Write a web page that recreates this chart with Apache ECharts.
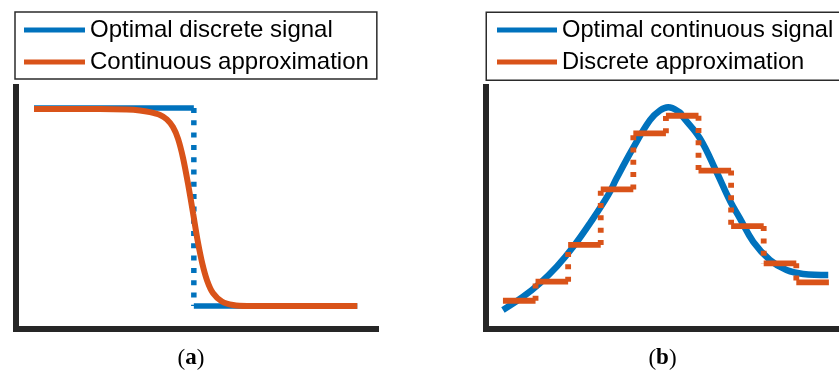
<!DOCTYPE html>
<html><head><meta charset="utf-8">
<script src="https://cdn.jsdelivr.net/npm/echarts@6/dist/echarts.min.js"></script>
<style>html,body{margin:0;padding:0;background:#fff}#c{width:839px;height:372px}</style>
</head><body><div id="c"></div>
<script>
// ---------- Panel (a) ----------
const aNames = ['Optimal discrete signal', 'Continuous approximation'];
const aDiscreteX = [5, 49.4, 94.8];          // segment edges of the optimal discrete signal
const aDiscreteLevels = [91.3, 9.3];         // its two levels
const aContX = [5, 23.3, 30.8, 34.4, 37.2, 40.0, 41.9, 43.6, 45.0, 46.4, 47.8, 49.2, 50.5, 51.8, 53.1, 54.7, 57.2, 60.3, 64.2, 94.8];
const aContY = [90.9, 90.9, 90.7, 90.3, 89.6, 88.4, 86.6, 83.4, 78.6, 70.6, 59.8, 47.6, 36.0, 26.6, 19.8, 14.7, 11.2, 9.7, 9.3, 9.3];

// ---------- Panel (b) ----------
const bNames = ['Optimal continuous signal', 'Discrete approximation'];
const bContX = [0.0, 0.62, 1.13, 1.65, 2.16, 2.67, 3.23, 3.49, 3.99, 4.51, 4.82, 5.07, 5.43, 5.52, 6.04, 6.55, 6.98, 7.27, 7.68, 8.19, 8.70, 9.21, 9.98];
const bContY = [7.7, 13.2, 18.7, 25.6, 33.9, 43.6, 55.3, 62.3, 74.7, 86.3, 90.3, 91.6, 89.4, 87.7, 78.8, 64.9, 52.5, 45.6, 35.9, 28.4, 24.2, 22.6, 22.2];
const bStepEdges = [0, 1, 2, 3, 4, 5, 6, 7, 8, 9, 10];
const bStepLevels = [11.5, 19.4, 34.6, 57.6, 80.8, 88.1, 65.4, 42.4, 27.0, 19.1];

const panelLabels = ['a', 'b'];

// ---------- build ----------
const BLUE = '#0072BD', ORANGE = '#D95319', AXIS = '#262626', FRAME = '#2b2b2b';
const zip = (xs, ys) => xs.map((x, i) => [x, ys[i]]);

function stepSeries(name, color, edges, levels, gi, width) {
  const out = [];
  levels.forEach((lv, k) => {
    out.push({ type: 'line', name, xAxisIndex: gi, yAxisIndex: gi, color, showSymbol: false, symbol: 'none',
      lineStyle: { color, width, cap: 'butt' }, data: [[edges[k], lv], [edges[k + 1], lv]], silent: true, z: 3 });
  });
  for (let k = 1; k < levels.length; k++) {
    out.push({ type: 'line', name, xAxisIndex: gi, yAxisIndex: gi, color, showSymbol: false, symbol: 'none',
      lineStyle: { color, width, type: [5, 7.3], cap: 'butt' },
      data: [[edges[k], levels[k - 1]], [edges[k], levels[k]]], silent: true, z: 3 });
  }
  return out;
}

const axisLineCfg = { show: true, onZero: false, lineStyle: { color: AXIS, width: 6, cap: 'square' } };
const bareAxis = (extra) => Object.assign({
  axisLine: axisLineCfg, axisTick: { show: false }, axisLabel: { show: false }, splitLine: { show: false }
}, extra);

const series = [];
series.push(...stepSeries(aNames[0], BLUE, aDiscreteX, aDiscreteLevels, 0, 5.5));
series.push({ type: 'line', name: aNames[1], xAxisIndex: 0, yAxisIndex: 0, color: ORANGE, showSymbol: false, symbol: 'none',
  smooth: 0.3, lineStyle: { color: ORANGE, width: 6 }, data: zip(aContX, aContY), z: 4, silent: true });
series.push({ type: 'line', name: bNames[0], xAxisIndex: 1, yAxisIndex: 1, color: BLUE, showSymbol: false, symbol: 'none',
  smooth: 0.4, lineStyle: { color: BLUE, width: 6.5 }, data: zip(bContX, bContY), z: 2, silent: true });
series.push(...stepSeries(bNames[1], ORANGE, bStepEdges, bStepLevels, 1, 5.8));

const legendCommon = {
  orient: 'vertical', top: 12, itemHeight: 5, itemGap: 8, icon: 'rect', selectedMode: false,
  borderRadius: 0, textStyle: { fontSize: 24, fontFamily: 'Liberation Sans', color: '#000' }
};

const chart = echarts.init(document.getElementById('c'), null, { renderer: 'canvas' });
chart.setOption({
  animation: false,
  backgroundColor: '#fff',
  grid: [
    { left: 16, top: 87, width: 360, height: 241.5 },
    { left: 486, top: 87, width: 353, height: 241.5 }
  ],
  xAxis: [
    bareAxis({ type: 'value', gridIndex: 0, min: 0, max: 100 }),
    bareAxis({ type: 'value', gridIndex: 1, min: -0.52, max: 10.31 })
  ],
  yAxis: [
    bareAxis({ type: 'value', gridIndex: 0, min: 0, max: 100 }),
    bareAxis({ type: 'value', gridIndex: 1, min: 0, max: 100 })
  ],
  legend: [
    Object.assign({}, legendCommon, { left: 15, itemWidth: 61, padding: [6, 8, 5, 9],
      borderColor: FRAME, borderWidth: 1.5, backgroundColor: '#fff',
      data: [{ name: aNames[0], itemStyle: { color: BLUE } }, { name: aNames[1], itemStyle: { color: ORANGE } }] }),
    Object.assign({}, legendCommon, { left: 486, itemWidth: 60, padding: [6, 10, 5, 11],
      borderWidth: 0, backgroundColor: 'transparent',
      textStyle: { fontSize: 23.7, fontFamily: 'Liberation Sans', color: '#000' },
      data: [{ name: bNames[0], itemStyle: { color: BLUE } }, { name: bNames[1], itemStyle: { color: ORANGE } }] })
  ],
  graphic: [
    // frame of panel (b) legend, which runs past the right edge of the picture
    { type: 'rect', left: 485.5, top: 11.5, silent: true, z: -1,
      shape: { width: 380, height: 68 }, style: { fill: '#fff', stroke: FRAME, lineWidth: 1.5 } }
  ].concat(panelLabels.map((t, i) => ({
    type: 'text', x: i === 0 ? 191 : 662.5, y: 358.5, silent: true,
    style: {
      text: '{p|(}{b|' + t + '}{p|)}', textAlign: 'center', textVerticalAlign: 'middle',
      rich: {
        p: { fontFamily: 'Liberation Serif', fontSize: 23, fill: '#000' },
        b: { fontFamily: 'Liberation Serif', fontSize: 23, fontWeight: 'bold', fill: '#000' }
      }
    }
  }))),
  series
});
</script></body></html>
